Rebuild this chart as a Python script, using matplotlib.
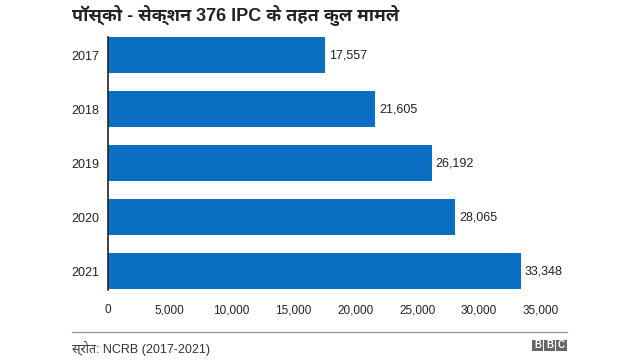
import matplotlib
matplotlib.use("Agg")
import matplotlib.pyplot as plt
from matplotlib.patches import Rectangle

years = ["2017", "2018", "2019", "2020", "2021"]
cases = [17557, 21605, 26192, 28065, 33348]
xticks = [0, 5000, 10000, 15000, 20000, 25000, 30000, 35000]
title = "पॉस्को - सेक्शन 376 IPC के तहत कुल मामले"
source = "स्रोत: NCRB (2017-2021)"

plt.rcParams['font.family'] = ['Liberation Sans', 'Noto Sans Devanagari UI', 'DejaVu Sans']

fig = plt.figure(figsize=(6.4, 3.6), dpi=100)
ax = fig.add_axes([108/640, 1-298.5/360, 433/640, 270.5/360])

ypos = list(range(len(years)))
ax.barh(ypos, cases, height=0.665, color="#0a6fc2")
ax.set_ylim(len(years)-0.5, -0.5)
ax.set_xlim(0, 35000)
ax.set_yticks(ypos)
ax.set_yticklabels(years, fontsize=9, color="#222222")
ax.set_xticks(xticks)
ax.set_xticklabels([f"{v:,}" for v in xticks], fontsize=8.5, color="#222222")
ax.tick_params(axis="both", length=0)
ax.tick_params(axis="x", pad=4)
ax.tick_params(axis="y", pad=6)
for s in ["top", "right", "bottom"]:
    ax.spines[s].set_visible(False)
ax.spines["left"].set_color("#222222")
ax.spines["left"].set_linewidth(1.2)
ax.spines["left"].set_bounds(-0.34, 4.34)

for y, v in zip(ypos, cases):
    ax.text(v + 300, y, f"{v:,}", va="center", ha="left", fontsize=9, color="#222222")

fig.text(72/640, 1-15/360, title, fontsize=13, fontweight="bold", va="center", ha="left",
         color="#222222")

fig.add_artist(plt.Line2D([72/640, 567/640], [1-332/360, 1-332/360], color="#999999", lw=1,
                          transform=fig.transFigure))
fig.text(72/640, 1-349/360, source, fontsize=9, va="center", ha="left", color="#333333")

# BBC blocks
for i, ch in enumerate("BBC"):
    x0 = 532 + i * 12
    fig.add_artist(Rectangle((x0/640, 1-351/360), 11/640, 11/360, transform=fig.transFigure,
                             color="#666666", lw=0))
    fig.text((x0+5.5)/640, 1-345.5/360, ch, fontsize=7, fontweight="bold", color="white",
             ha="center", va="center")

fig.savefig("out.png", dpi=100)
